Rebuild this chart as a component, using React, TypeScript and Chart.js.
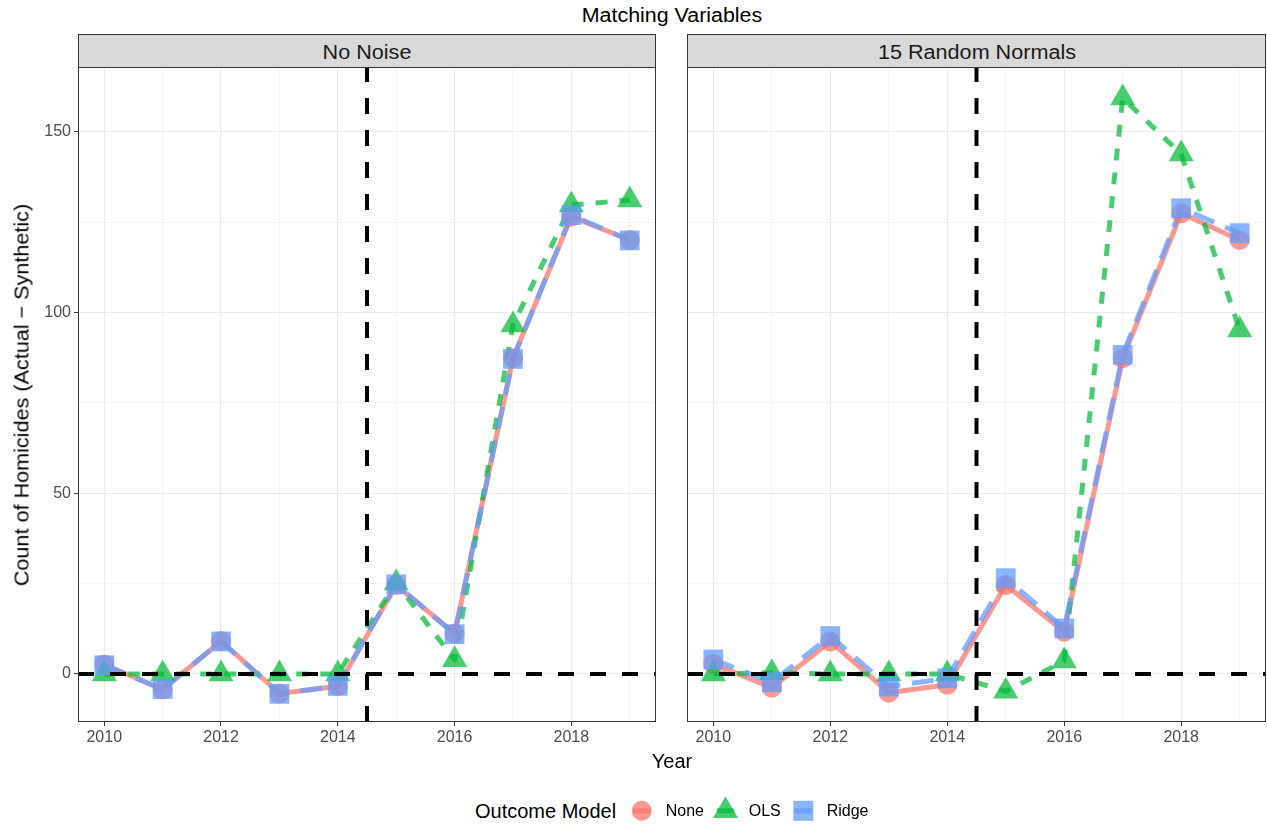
import React, { useEffect, useRef } from 'react';
import { Chart, registerables } from 'chart.js';

Chart.register(...registerables);

const FONT = "'Liberation Sans', Arial, Helvetica, sans-serif";

// ---- data ----
const YEARS = [2010, 2011, 2012, 2013, 2014, 2015, 2016, 2017, 2018, 2019];
const Y_TICKS = [0, 25, 50, 75, 100, 125, 150];
const TREATMENT_BREAK = 2014.5;
const PANEL_TITLES = ['No Noise', '15 Random Normals'];
const MODEL_NAMES = ['None', 'OLS', 'Ridge'];

// No Noise panel
const noNoiseNone = [2.6, -4.3, 9.1, -5.4, -3.4, 24.6, 11.2, 87.4, 126.6, 120.1];
const noNoiseOLS = [0, 0, 0, 0, 0, 25.2, 3.9, 96.6, 129.8, 131.2];
const noNoiseRidge = [2.4, -4.2, 9.0, -5.5, -3.3, 24.8, 11.0, 87.2, 127.0, 120.0];

// 15 Random Normals panel
const randomNone = [2.8, -3.8, 9.0, -5.2, -3.0, 24.6, 11.7, 87.4, 127.5, 120.1];
const randomOLS = [0, 0.3, 0, 0, 0, -4.8, 3.6, 159.4, 143.9, 95.2];
const randomRidge = [4.0, -2.3, 10.5, -3.5, -1.2, 26.5, 12.6, 88.3, 128.9, 122.0];

// ---- styling ----
const MODEL_COLORS = ['rgba(248,118,109,0.75)', 'rgba(0,186,56,0.72)', 'rgba(97,156,255,0.75)'];
const MODEL_DASH: number[][] = [[], [12, 12], [22, 12]];
const MODEL_SHAPES = ['circle', 'triangle', 'rect'];
const MODEL_RADII = [10, 14.5, 14];

function buildDatasets(series: number[][]) {
  const lines = series.map((vals, i) => ({
    label: MODEL_NAMES[i] + ' line',
    data: YEARS.map((x, j) => ({ x, y: vals[j] })),
    borderColor: MODEL_COLORS[i],
    borderWidth: 5,
    borderDash: MODEL_DASH[i],
    borderCapStyle: 'butt',
    borderJoinStyle: 'round',
    pointRadius: 0,
    pointHoverRadius: 0,
    fill: false,
    tension: 0,
    order: 6 - i,
  }));
  const points = series.map((vals, i) => ({
    label: MODEL_NAMES[i],
    data: YEARS.map((x, j) => ({ x, y: vals[j] })),
    showLine: false,
    pointStyle: MODEL_SHAPES[i],
    pointRadius: MODEL_RADII[i],
    pointHoverRadius: MODEL_RADII[i],
    pointBackgroundColor: MODEL_COLORS[i],
    pointBorderWidth: 0,
    pointBorderColor: 'rgba(0,0,0,0)',
    order: 3 - i,
  }));
  return [...lines, ...points];
}

// dashed reference lines at zero and at the treatment break
const referenceLines = {
  id: 'referenceLines',
  afterDatasetsDraw(chart: any) {
    const { ctx, chartArea, scales } = chart;
    const y0 = scales.y.getPixelForValue(0);
    const xb = scales.x.getPixelForValue(TREATMENT_BREAK);
    ctx.save();
    ctx.beginPath();
    ctx.rect(chartArea.left, chartArea.top, chartArea.right - chartArea.left, chartArea.bottom - chartArea.top);
    ctx.clip();
    ctx.strokeStyle = '#000000';
    ctx.lineWidth = 4;
    ctx.lineCap = 'butt';
    ctx.setLineDash([16, 16]);
    ctx.beginPath();
    ctx.moveTo(chartArea.left, y0);
    ctx.lineTo(chartArea.right, y0);
    ctx.stroke();
    ctx.beginPath();
    ctx.moveTo(xb, chartArea.bottom);
    ctx.lineTo(xb, chartArea.top);
    ctx.stroke();
    ctx.restore();
  },
};

// panel frame drawn over everything
const panelFrame = {
  id: 'panelFrame',
  afterDraw(chart: any) {
    const { ctx, chartArea } = chart;
    ctx.save();
    ctx.strokeStyle = '#333333';
    ctx.lineWidth = 1;
    ctx.setLineDash([]);
    ctx.strokeRect(
      chartArea.left + 0.5,
      chartArea.top + 0.5,
      chartArea.right - chartArea.left - 1,
      chartArea.bottom - chartArea.top - 1
    );
    ctx.restore();
  },
};

type PanelProps = { series: number[][]; left: number; width: number; isLeft: boolean };

function Panel({ series, left, width, isLeft }: PanelProps) {
  const ref = useRef<HTMLCanvasElement>(null);
  useEffect(() => {
    const chart = new Chart(ref.current as HTMLCanvasElement, {
      type: 'line',
      data: { datasets: buildDatasets(series) as any },
      options: {
        animation: false,
        responsive: false,
        devicePixelRatio: 1,
        clip: false,
        layout: {
          autoPadding: false,
          padding: { top: 67, right: isLeft ? 14 : 1, bottom: 0, left: 0 },
        },
        plugins: { legend: { display: false }, tooltip: { enabled: false }, title: { display: false } },
        scales: {
          x: {
            type: 'linear',
            min: 2009.55,
            max: 2019.45,
            afterBuildTicks: (s: any) => {
              s.ticks = YEARS.map((v) => ({ value: v }));
            },
            afterFit: (s: any) => {
              s.height = 38;
              s.paddingLeft = 0;
              s.paddingRight = 0;
            },
            border: { display: false },
            grid: {
              color: '#EBEBEB',
              lineWidth: (c: any) => (c.tick && c.tick.value % 2 === 0 ? 1.1 : 0.55),
              tickLength: 4,
              tickColor: (c: any) => (c.tick && c.tick.value % 2 === 0 ? '#333333' : 'rgba(0,0,0,0)'),
              tickWidth: 1,
            },
            ticks: {
              autoSkip: false,
              maxRotation: 0,
              padding: 2,
              color: '#4D4D4D',
              font: { family: FONT, size: 16 },
              callback: (v: any) => (Number(v) % 2 === 0 ? String(v) : ''),
            },
          },
          y: {
            type: 'linear',
            min: -13.3,
            max: 168,
            afterBuildTicks: (s: any) => {
              s.ticks = Y_TICKS.map((v) => ({ value: v }));
            },
            afterFit: (s: any) => {
              s.width = isLeft ? 78 : 17;
              s.paddingTop = 0;
              s.paddingBottom = 0;
            },
            border: { display: false },
            grid: {
              color: '#EBEBEB',
              lineWidth: (c: any) => (c.tick && c.tick.value % 50 === 0 ? 1.1 : 0.55),
              drawTicks: isLeft,
              tickLength: 4,
              tickColor: (c: any) => (c.tick && c.tick.value % 50 === 0 ? '#333333' : 'rgba(0,0,0,0)'),
              tickWidth: 1,
            },
            ticks: {
              display: isLeft,
              padding: 3,
              color: '#4D4D4D',
              font: { family: FONT, size: 16 },
              callback: (v: any) => (Number(v) % 50 === 0 ? String(v) : ''),
            },
          },
        },
      } as any,
      plugins: [referenceLines, panelFrame],
    });
    return () => chart.destroy();
  }, []);
  return (
    <canvas
      ref={ref}
      width={width}
      height={760}
      style={{ position: 'absolute', left, top: 0, width, height: 760 }}
    />
  );
}

const stretched = (extra: string) => ({
  position: 'absolute' as const,
  whiteSpace: 'nowrap' as const,
  lineHeight: 'normal',
  transform: extra,
});

function Strip({ left, width, text }: { left: number; width: number; text: string }) {
  return (
    <div
      style={{
        position: 'absolute',
        left,
        top: 34,
        width,
        height: 34,
        boxSizing: 'border-box',
        border: '1px solid #333333',
        background: '#D9D9D9',
      }}
    >
      <div
        style={{
          ...stretched('translate(-50%, -50%) scaleX(1.08)'),
          left: '50%',
          top: 17.3,
          fontSize: 20,
          color: '#1A1A1A',
        }}
      >
        {text}
      </div>
    </div>
  );
}

function Legend() {
  const cy = 20.8;
  const tri = (cx: number, r: number) =>
    `${cx},${cy - r} ${cx + r * 0.866},${cy + r / 2} ${cx - r * 0.866},${cy + r / 2}`;
  return (
    <>
      <div style={{ ...stretched('translateY(-50%)'), left: 475, top: 810.5, fontSize: 20, color: '#000' }}>
        Outcome Model
      </div>
      <svg style={{ position: 'absolute', left: 0, top: 790 }} width={1267} height={34}>
        <circle cx={641.7} cy={cy} r={10} fill={MODEL_COLORS[0]} />
        <line x1={633} x2={650.4} y1={cy} y2={cy} stroke={MODEL_COLORS[0]} strokeWidth={5} />
        <polygon points={tri(725.5, 14.5)} fill={MODEL_COLORS[1]} />
        <line x1={717} x2={734} y1={cy} y2={cy} stroke={MODEL_COLORS[1]} strokeWidth={5} />
        <rect x={793.3} y={cy - 10} width={20} height={20} fill={MODEL_COLORS[2]} />
        <line x1={794.7} x2={812} y1={cy} y2={cy} stroke={MODEL_COLORS[2]} strokeWidth={5} />
      </svg>
      {[
        [MODEL_NAMES[0], 665.7],
        [MODEL_NAMES[1], 748.7],
        [MODEL_NAMES[2], 826.7],
      ].map(([t, x]) => (
        <div
          key={t as string}
          style={{ ...stretched('translateY(-50%)'), left: x as number, top: 811, fontSize: 16, color: '#000' }}
        >
          {t}
        </div>
      ))}
    </>
  );
}

export default function App() {
  return (
    <div
      style={{
        position: 'fixed',
        left: 0,
        top: 0,
        width: 1267,
        height: 824,
        background: '#FFFFFF',
        fontFamily: FONT,
        overflow: 'hidden',
      }}
    >
      <div
        style={{
          ...stretched('translate(-50%, -50%) scaleX(1.07)'),
          left: 672,
          top: 15,
          fontSize: 20,
          color: '#000',
        }}
      >
        Matching Variables
      </div>
      <Panel series={[noNoiseNone, noNoiseOLS, noNoiseRidge]} left={0} width={670} isLeft={true} />
      <Panel series={[randomNone, randomOLS, randomRidge]} left={670} width={597} isLeft={false} />
      <Strip left={78} width={578} text={PANEL_TITLES[0]} />
      <Strip left={687} width={579} text={PANEL_TITLES[1]} />
      <div
        style={{
          ...stretched('translate(-50%, -50%) rotate(-90deg) scaleX(1.08)'),
          left: 22,
          top: 395,
          fontSize: 20,
          color: '#000',
        }}
      >
        Count of Homicides (Actual − Synthetic)
      </div>
      <div style={{ ...stretched('translate(-50%, -50%)'), left: 672, top: 760.5, fontSize: 20, color: '#000' }}>
        Year
      </div>
      <Legend />
    </div>
  );
}
